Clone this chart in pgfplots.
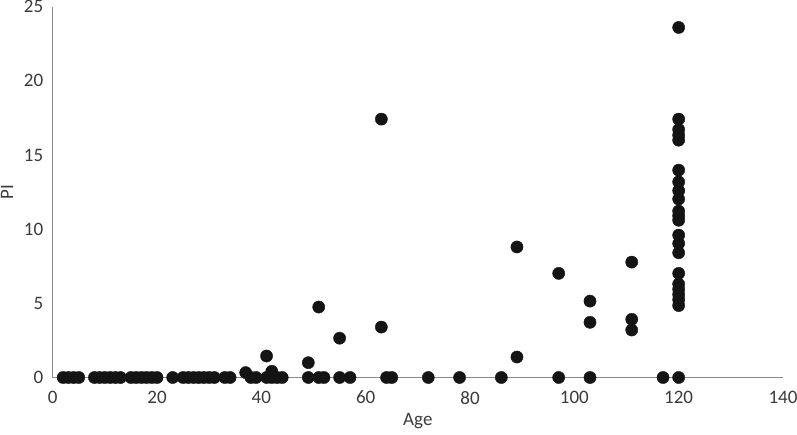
\documentclass[border=0pt]{standalone}
\usepackage{pgfplots}
\pgfplotsset{compat=1.18}
\usepackage{fontspec}
\setmainfont{Carlito}
\definecolor{axisgray}{HTML}{898989}
\definecolor{labelgray}{HTML}{3A3A3A}
\definecolor{dotblack}{HTML}{141414}
\begin{document}
\begin{tikzpicture}
\useasboundingbox (-52.7pt,-56.5pt) rectangle (744.3pt,377.5pt);
\begin{axis}[scale only axis, width=730.3pt, height=370.8pt,
  xmin=0, xmax=140, ymin=0, ymax=25,
  xtick={0,20,...,140}, ytick={0,5,...,25},
  axis x line=bottom, axis y line=left,
  axis line style={-, axisgray, line width=1.4pt},
  major tick length=0pt,
  tick label style={font=\fontsize{19}{22}\selectfont, text=labelgray},
  /pgf/number format/assume math mode=true,
  xticklabel style={yshift=-10pt},
  yticklabel style={xshift=-6pt},
  xlabel={Age}, ylabel={PI},
  label style={font=\fontsize{19}{22}\selectfont, text=labelgray},
  xlabel style={yshift=-2pt},
  ylabel style={yshift=4pt},
  clip=false]
% points at PI = 0
\addplot[only marks, mark=*, mark size=6.1pt, dotblack] coordinates {
(2,0) (3,0) (4,0) (5,0) (8,0) (9,0) (10,0) (11,0) (12,0) (13,0)
(15,0) (16,0) (17,0) (18,0) (19,0) (20,0) (23,0) (25,0) (26,0) (27,0)
(28,0) (29,0) (30,0) (31,0) (33,0) (34,0) (38,0) (39,0) (41,0) (42,0)
(43,0) (44,0) (49,0) (51,0) (52,0) (55,0) (57,0) (64,0) (65,0) (72,0)
(78,0) (86,0) (97,0) (103,0) (117,0) (120,0)};
% points above zero
\addplot[only marks, mark=*, mark size=6.1pt, dotblack] coordinates {
(37,0.33) (41,1.45) (42,0.42) (49,1.0) (51,4.75) (55,2.65)
(63,17.42) (63,3.4) (89,8.8) (89,1.38) (97,7.02) (103,5.15) (103,3.72)
(111,7.78) (111,3.92) (111,3.2)
(120,23.6) (120,17.42) (120,16.72) (120,16.34) (120,16.0) (120,13.98)
(120,13.19) (120,12.6) (120,12.03) (120,11.22) (120,10.9) (120,10.6)
(120,9.6) (120,9.04) (120,8.41) (120,7.02) (120,6.3) (120,5.95)
(120,5.6) (120,5.25) (120,4.85)};
\end{axis}
\end{tikzpicture}
\end{document}
